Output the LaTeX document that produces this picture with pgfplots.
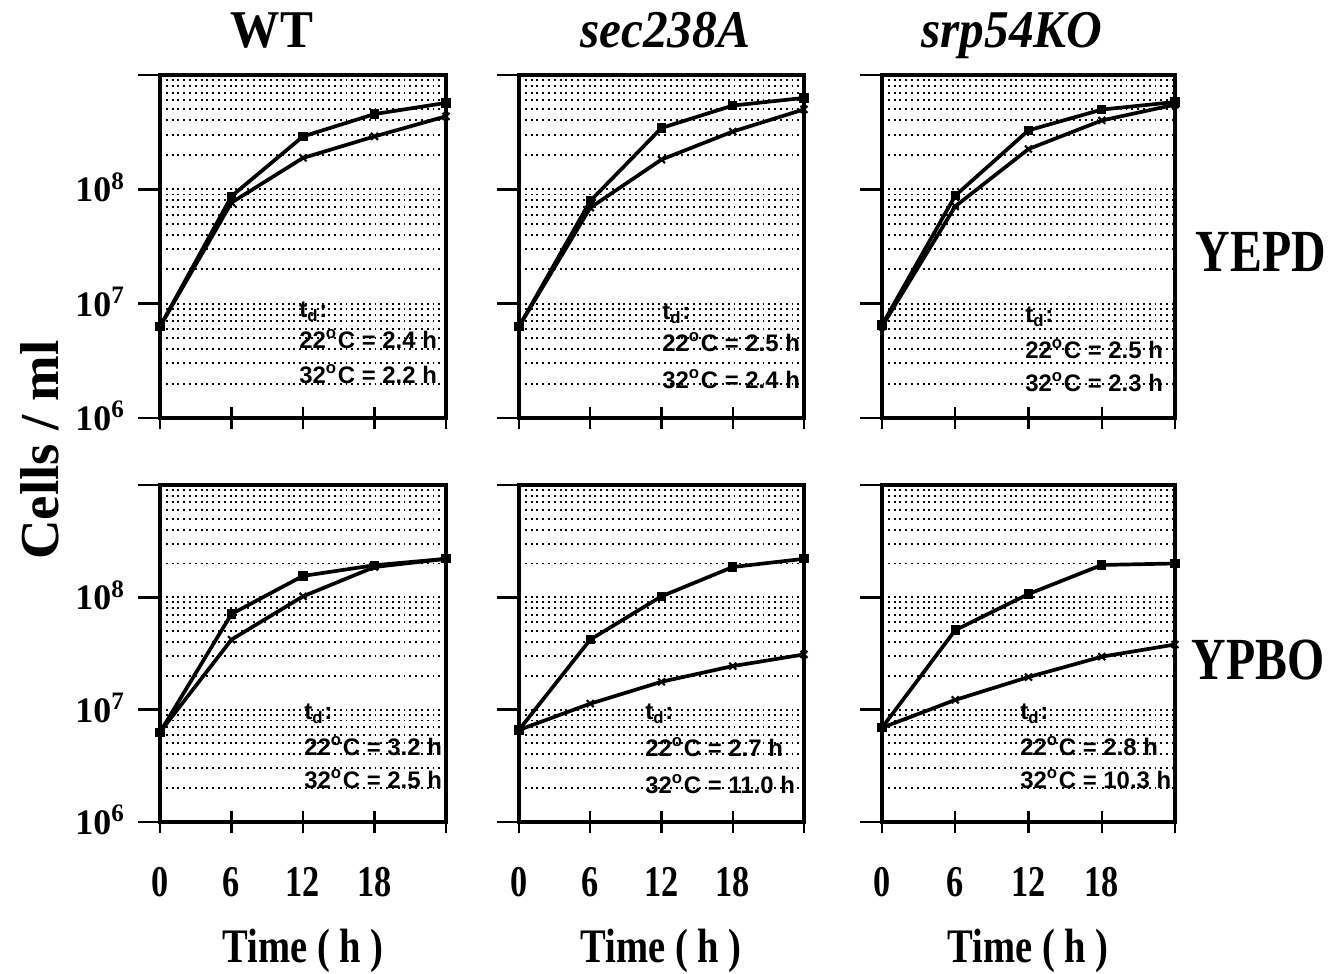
\documentclass[border=0pt]{standalone}
\usepackage{fontspec}
\setmainfont{Liberation Serif}
\setsansfont{Liberation Sans}
\usepackage{pgfplots}
\pgfplotsset{compat=1.18}

\newcommand{\tdfont}{\sffamily\bfseries\fontsize{6.8}{8}\selectfont}

\pgfplotsset{
  panel/.style={
    scale only axis, clip=false,
    xmin=0, xmax=24, ymin=1e6, ymax=1e9,
    xtick={0,6,12,18,24}, ytick={1e6,1e7,1e8,1e9},
    minor ytick={2e6,3e6,4e6,5e6,6e6,7e6,8e6,9e6,2e7,3e7,4e7,5e7,6e7,7e7,8e7,9e7,2e8,3e8,4e8,5e8,6e8,7e8,8e8,9e8},
    xticklabels={}, yticklabels={},
    xtick pos=bottom, ytick pos=left,
    xtick align=center, ytick align=outside,
    major tick length=2.2mm, minor tick length=0pt,
    ymajorgrids, yminorgrids,
    major grid style={black, line width=0.55pt, dash pattern=on 0.55pt off 1.1pt},
    minor grid style={black, line width=0.55pt, dash pattern=on 0.55pt off 1.1pt},
    axis line style={line width=1pt},
    tick style={black, line width=0.7pt},
    xticklabel style={font=\bfseries\fontsize{12.5}{14}\selectfont, xscale=0.78, anchor=base, yshift=-6.4mm},
    yticklabel style={font=\bfseries\fontsize{10.2}{12}\selectfont, anchor=base east, yshift=-1.25mm},
    yticklabel shift=0pt,
  },
  leftcol/.style={yticklabels={10\textsuperscript{6},10\textsuperscript{7},10\textsuperscript{8},{}}},
  botrow/.style={xticklabels={0,6,12,18,{}}},
  sA/.style={black, line width=1.05pt, mark=square*, mark size=0.8pt},
  sB/.style={black, line width=1.05pt, mark=x, mark size=1.4pt, mark options={line width=0.6pt}},
}

\begin{document}
\begin{tikzpicture}
\path[use as bounding box] (0,0) rectangle (13.35,9.74);

% ---- YEPD row ----
\begin{semilogyaxis}[panel, leftcol, at={(1.60cm,5.56cm)}, anchor=south west, width=2.86cm, height=3.43cm]
\addplot[sA] coordinates {(0,6.3e6) (6,8.7e7) (12,2.9e8) (18,4.55e8) (24,5.7e8)};
\addplot[sB] coordinates {(0,6.3e6) (6,7.65e7) (12,1.88e8) (18,2.9e8) (24,4.35e8)};
\end{semilogyaxis}
\begin{semilogyaxis}[panel, at={(5.19cm,5.56cm)}, anchor=south west, width=2.85cm, height=3.43cm]
\addplot[sA] coordinates {(0,6.3e6) (6,7.9e7) (12,3.44e8) (18,5.4e8) (24,6.3e8)};
\addplot[sB] coordinates {(0,6.3e6) (6,6.9e7) (12,1.82e8) (18,3.2e8) (24,5.0e8)};
\end{semilogyaxis}
\begin{semilogyaxis}[panel, at={(8.82cm,5.56cm)}, anchor=south west, width=2.93cm, height=3.43cm]
\addplot[sA] coordinates {(0,6.5e6) (6,8.8e7) (12,3.28e8) (18,4.98e8) (24,5.8e8)};
\addplot[sB] coordinates {(0,6.3e6) (6,7.1e7) (12,2.25e8) (18,4.0e8) (24,5.5e8)};
\end{semilogyaxis}

% ---- YPBO row ----
\begin{semilogyaxis}[panel, leftcol, botrow, at={(1.60cm,1.52cm)}, anchor=south west, width=2.86cm, height=3.37cm]
\addplot[sA] coordinates {(0,6.3e6) (6,7.1e7) (12,1.55e8) (18,1.93e8) (24,2.2e8)};
\addplot[sB] coordinates {(0,6.3e6) (6,4.2e7) (12,1.02e8) (18,1.86e8) (24,2.2e8)};
\end{semilogyaxis}
\begin{semilogyaxis}[panel, botrow, at={(5.19cm,1.52cm)}, anchor=south west, width=2.85cm, height=3.37cm]
\addplot[sA] coordinates {(0,6.6e6) (6,4.2e7) (12,1.02e8) (18,1.86e8) (24,2.2e8)};
\addplot[sB] coordinates {(0,6.6e6) (6,1.13e7) (12,1.77e7) (18,2.44e7) (24,3.1e7)};
\end{semilogyaxis}
\begin{semilogyaxis}[panel, botrow, at={(8.82cm,1.52cm)}, anchor=south west, width=2.93cm, height=3.37cm]
\addplot[sA] coordinates {(0,6.9e6) (6,5.1e7) (12,1.07e8) (18,1.94e8) (24,2.0e8)};
\addplot[sB] coordinates {(0,6.9e6) (6,1.22e7) (12,1.95e7) (18,2.96e7) (24,3.8e7)};
\end{semilogyaxis}

% doubling times
\node[font=\tdfont, anchor=base west] at (2.87,6.56) {t\textsubscript{d}:};
\node[font=\tdfont, anchor=base west] at (2.87,6.25) {22\textsuperscript{o}C = 2.4 h};
\node[font=\tdfont, anchor=base west] at (2.87,5.90) {32\textsuperscript{o}C = 2.2 h};
\node[font=\tdfont, anchor=base west] at (6.50,6.54) {t\textsubscript{d}:};
\node[font=\tdfont, anchor=base west] at (6.50,6.22) {22\textsuperscript{o}C = 2.5 h};
\node[font=\tdfont, anchor=base west] at (6.50,5.85) {32\textsuperscript{o}C = 2.4 h};
\node[font=\tdfont, anchor=base west] at (10.13,6.51) {t\textsubscript{d}:};
\node[font=\tdfont, anchor=base west] at (10.13,6.15) {22\textsuperscript{o}C = 2.5 h};
\node[font=\tdfont, anchor=base west] at (10.13,5.82) {32\textsuperscript{o}C = 2.3 h};
\node[font=\tdfont, anchor=base west] at (2.92,2.54) {t\textsubscript{d}:};
\node[font=\tdfont, anchor=base west] at (2.92,2.18) {22\textsuperscript{o}C = 3.2 h};
\node[font=\tdfont, anchor=base west] at (2.92,1.85) {32\textsuperscript{o}C = 2.5 h};
\node[font=\tdfont, anchor=base west] at (6.33,2.54) {t\textsubscript{d}:};
\node[font=\tdfont, anchor=base west] at (6.33,2.17) {22\textsuperscript{o}C = 2.7 h};
\node[font=\tdfont, anchor=base west] at (6.33,1.80) {32\textsuperscript{o}C = 11.0 h};
\node[font=\tdfont, anchor=base west] at (10.08,2.54) {t\textsubscript{d}:};
\node[font=\tdfont, anchor=base west] at (10.08,2.18) {22\textsuperscript{o}C = 2.8 h};
\node[font=\tdfont, anchor=base west] at (10.08,1.85) {32\textsuperscript{o}C = 10.3 h};

% titles and labels
\node[font=\bfseries\fontsize{15.1}{17}\selectfont, anchor=base, xscale=0.93] at (2.72,9.26) {WT};
\node[font=\bfseries\itshape\fontsize{15.1}{17}\selectfont, anchor=base, xscale=0.93] at (6.65,9.26) {sec238A};
\node[font=\bfseries\itshape\fontsize{15.1}{17}\selectfont, anchor=base, xscale=0.93] at (10.12,9.26) {srp54KO};
\node[font=\bfseries\fontsize{17}{19}\selectfont, anchor=base west, xscale=0.8] at (11.86,7.02) {YEPD};
\node[font=\bfseries\fontsize{17}{19}\selectfont, anchor=base west, xscale=0.8] at (11.82,2.94) {YPBO};
\node[font=\bfseries\fontsize{15.6}{18}\selectfont, rotate=90] at (0.40,5.24) {Cells / ml};
\foreach \cx in {3.03,6.61,10.28}
  \node[font=\bfseries\fontsize{13.7}{16}\selectfont, anchor=base, xscale=0.8] at (\cx,0.11) {Time ( h )};
\end{tikzpicture}
\end{document}
